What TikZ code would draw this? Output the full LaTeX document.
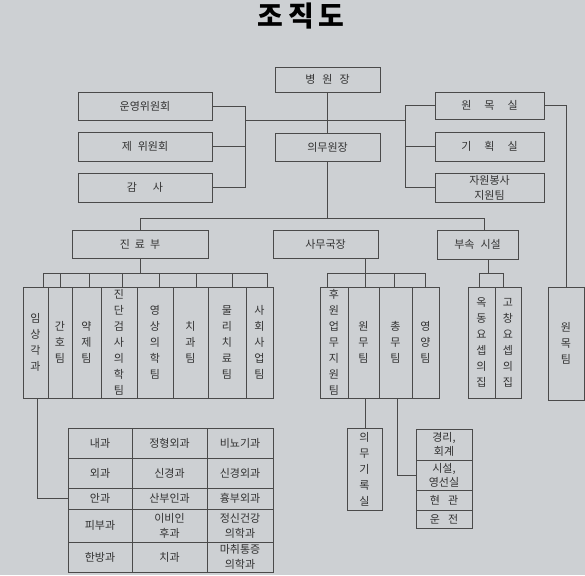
\documentclass[tikz,border=0pt]{standalone}
\usepackage{fontspec}
\setmainfont{Noto Sans CJK KR}
\definecolor{paper}{HTML}{CDD0D3}
\definecolor{ink}{HTML}{4A4A4A}
\definecolor{txt}{HTML}{333333}
\newcommand\bx[6]{\node[box, minimum width={(#4-#2)*1pt}, minimum height={(#5-#3)*1pt}] (#1) at ({(#2+#4)/2},{(#3+#5)/2}) {#6};}
\begin{document}
\begin{tikzpicture}[x=1pt,y=-1pt,
  box/.style={draw=ink, line width=0.8pt, inner sep=0pt, text=txt,
    font=\fontsize{11}{16}\selectfont, align=center},
  conn/.style={draw=ink, line width=0.8pt}]
\fill[paper] (0,0) rectangle (585,575);
\useasboundingbox (0,0) rectangle (585,575);
% title
\node[text=black, font=\fontsize{28}{32}\selectfont\bfseries] (title) at (301,16) {조\hspace{5pt}직\hspace{5pt}도};
% top level
\bx{bw}{275}{67}{380}{92}{병\hspace{7pt}원\hspace{7pt}장}
\bx{uy}{78}{92}{212}{120}{운영위원회}
\bx{je}{78}{132}{212}{161}{제\hspace{6pt}위원회}
\bx{gs}{78}{173}{212}{202}{감\hspace{16pt}사}
\bx{um}{275}{133}{380}{161}{의무원장}
\bx{wm}{435}{92}{544}{119}{원\hspace{13pt}목\hspace{13pt}실}
\bx{gh}{435}{132}{544}{161}{기\hspace{13pt}획\hspace{13pt}실}
\bx{jw}{435}{173}{544}{202}{자원봉사\\[-1pt]지원팀}
% second level
\bx{jr}{72}{230}{208}{258}{진\hspace{5pt}료\hspace{5pt}부}
\bx{sm}{273}{230}{378}{258}{사무국장}
\bx{bs}{437}{230}{518}{259}{부속\hspace{6pt}시설}
% columns under 진료부
\bx{c1}{23}{287}{48}{398}{임\\상\\각\\과}
\bx{c2}{48}{287}{72}{398}{간\\호\\팀}
\bx{c3}{72}{287}{101}{398}{약\\제\\팀}
\bx{c4}{101}{287}{137}{398}{진\\단\\검\\사\\의\\학\\팀}
\bx{c5}{137}{287}{173}{398}{영\\상\\의\\학\\팀}
\bx{c6}{173}{287}{208}{398}{치\\과\\팀}
\bx{c7}{208}{287}{246}{398}{물\\리\\치\\료\\팀}
\bx{c8}{246}{287}{273}{398}{사\\회\\사\\업\\팀}
% columns under 사무국장
\bx{s1}{320}{287}{348}{398}{후\\원\\업\\무\\지\\원\\팀}
\bx{s2}{348}{287}{379}{398}{원\\무\\팀}
\bx{s3}{379}{287}{412}{398}{총\\무\\팀}
\bx{s4}{412}{287}{439}{398}{영\\양\\팀}
% columns under 부속시설
\bx{b1}{468}{287}{495}{398}{옥\\동\\요\\셉\\의\\집}
\bx{b2}{495}{287}{521}{398}{고\\창\\요\\셉\\의\\집}
\bx{wt}{548}{287}{584}{400}{원\\목\\팀}
% lower boxes
\bx{ur}{347}{428}{382}{510}{의\\무\\기\\록\\실}
\bx{k1}{416}{429}{472}{460}{경리,\\[-2pt]회계}
\bx{k2}{416}{460}{472}{490}{시설,\\[-2pt]영선실}
\bx{k3}{416}{490}{472}{510}{현\hspace{8pt}관}
\bx{k4}{416}{510}{472}{528}{운\hspace{8pt}전}
% table
\bx{t11}{68}{428}{132}{458}{내과}
\bx{t12}{132}{428}{207}{458}{정형외과}
\bx{t13}{207}{428}{273}{458}{비뇨기과}
\bx{t21}{68}{458}{132}{488}{외과}
\bx{t22}{132}{458}{207}{488}{신경과}
\bx{t23}{207}{458}{273}{488}{신경외과}
\bx{t31}{68}{488}{132}{509}{안과}
\bx{t32}{132}{488}{207}{509}{산부인과}
\bx{t33}{207}{488}{273}{509}{흉부외과}
\bx{t41}{68}{509}{132}{542}{피부과}
\bx{t42}{132}{509}{207}{542}{이비인\\[-1pt]후과}
\bx{t43}{207}{509}{273}{542}{정신건강\\[-1pt]의학과}
\bx{t51}{68}{542}{132}{572}{한방과}
\bx{t52}{132}{542}{207}{572}{치과}
\bx{t53}{207}{542}{273}{572}{마취통증\\[-1pt]의학과}
% connectors: top
\draw[conn] (bw) -- (um);
\coordinate (lj) at (245,120);
\coordinate (rj) at (405,120);
\draw[conn] (uy.east) -- (uy.east -| lj) -- (gs.east -| lj) -- (gs.east);
\draw[conn] (je.east) -- (je.east -| lj);
\draw[conn] (lj) -- (rj);
\draw[conn] (wm.west) -- (wm.west -| rj) -- (jw.west -| rj) -- (jw.west);
\draw[conn] (gh.west) -- (gh.west -| rj);
\draw[conn] (wm.east) -| (wt.north);
\coordinate (hl) at (484,218);
\draw[conn] (um.south) -- (um.south |- hl);
\draw[conn] (jr.north) |- (hl) -- (hl |- bs.north);
% comb under 진료부
\coordinate (jl) at (43,273);
\coordinate (jrr) at (267,273);
\draw[conn] (jr.south) -- (jr.south |- jl);
\draw[conn] (jl) -- (jrr);
\foreach \x/\c in {43/c1,60/c2,89/c3,122/c4,159/c5,196/c6,232/c7,267/c8}{
  \coordinate (k) at (\x,273);
  \draw[conn] (k) -- (k |- \c.north);
}
% comb under 사무국장
\coordinate (sj) at (365,273);
\coordinate (sl) at (327,273);
\coordinate (sr) at (425,273);
\draw[conn] (sm.south -| sj) -- (sj);
\draw[conn] (sl) -- (sr);
\foreach \x/\c in {327/s1,365/s2,394/s3,425/s4}{
  \coordinate (k) at (\x,273);
  \draw[conn] (k) -- (k |- \c.north);
}
% comb under 부속시설
\coordinate (bj) at (488,273);
\coordinate (bl) at (479,273);
\coordinate (br) at (503,273);
\draw[conn] (bs.south -| bj) -- (bj);
\draw[conn] (bl) -- (br);
\draw[conn] (bl) -- (bl |- b1.north);
\draw[conn] (br) -- (br |- b2.north);
% lower connectors
\coordinate (lv) at (37,0);
\draw[conn] (c1.south -| lv) |- (t31.west);
\coordinate (uv) at (365,0);
\draw[conn] (s2.south -| uv) -- (uv |- ur.north);
\coordinate (cv) at (397,0);
\draw[conn] (s3.south -| cv) |- (k2.west);
\end{tikzpicture}
\end{document}
